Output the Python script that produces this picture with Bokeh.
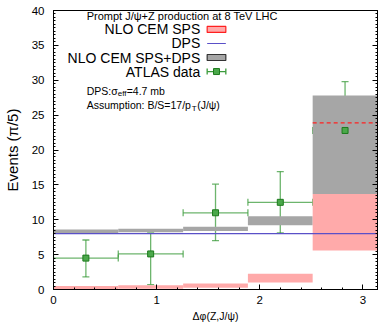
import numpy as np
from bokeh.plotting import figure
from bokeh.models import (ColumnDataSource, Range1d, LinearAxis, SingleIntervalTicker,
                          Whisker, TeeHead, Label)
from bokeh.embed import file_html
from bokeh.resources import INLINE

# ---- data ----
bin_lo = [0.0, 0.628, 1.257, 1.885, 2.513]
bin_hi = [0.628, 1.257, 1.885, 2.513, 3.1416]
sps_lo = [0.05, 0.1, 0.25, 1.0, 5.6]
sps_hi = [0.5, 0.6, 0.85, 2.25, 13.7]
tot_lo = [8.1, 8.2, 8.4, 9.2, 13.7]
tot_hi = [8.6, 8.7, 9.0, 10.5, 27.8]
dps_value = 8.0
central_last_bin = [23.9]
data_x = [0.314, 0.942, 1.571, 2.199, 2.827]
data_y = [4.5, 5.1, 11.0, 12.5, 22.8]
data_lo = [1.8, 0.7, 7.0, 8.1, 15.8]
data_hi = [7.1, 8.1, 15.1, 16.9, 29.8]

FONT = "Liberation Sans"
GREEN = "#3c9c3c"
XMAX = 3.1416

p = figure(width=382, height=328, output_backend="svg", toolbar_location=None,
           x_range=Range1d(0, XMAX), y_range=Range1d(0, 40),
           min_border_left=48, min_border_right=5, min_border_top=10, min_border_bottom=39)
p.grid.visible = False
p.outline_line_color = "black"
p.outline_line_width = 1
p.background_fill_color = "white"

# axes
p.xaxis.ticker = SingleIntervalTicker(interval=1, num_minor_ticks=5)
p.yaxis.ticker = SingleIntervalTicker(interval=5, num_minor_ticks=10)
for ax in (p.xaxis[0], p.yaxis[0]):
    ax.major_tick_out = 0
    ax.major_tick_in = 5
    ax.minor_tick_out = 0
    ax.minor_tick_in = 2
    ax.major_label_text_font = FONT
    ax.major_label_text_font_size = "11.5px"
    ax.major_label_text_color = "black"
    ax.axis_line_color = "black"
    ax.axis_label_text_font = FONT
    ax.axis_label_text_font_style = "normal"
    ax.axis_label_text_color = "black"
p.xaxis.major_label_standoff = 6
p.xaxis.axis_label = "Δφ(Z,J/ψ)"
p.xaxis.axis_label_text_font_size = "10.5px"
p.xaxis.axis_label_standoff = 3
p.yaxis.major_label_standoff = 9
p.yaxis.axis_label = "Events (π/5)"
p.yaxis.axis_label_text_font_size = "15px"
p.yaxis.axis_label_standoff = 8

right = LinearAxis(ticker=SingleIntervalTicker(interval=5, num_minor_ticks=10),
                   major_tick_out=0, major_tick_in=5, minor_tick_out=0, minor_tick_in=2,
                   major_label_text_font_size="0px", major_label_standoff=0,
                   axis_line_color="black")
p.add_layout(right, "right")

# bands
src = ColumnDataSource(dict(l=bin_lo, r=bin_hi, slo=sps_lo, shi=sps_hi, tlo=tot_lo, thi=tot_hi))
p.quad(left="l", right="r", bottom="tlo", top="thi", source=src,
       fill_color="#a6a6a6", line_color=None)
p.quad(left="l", right="r", bottom="slo", top="shi", source=src,
       fill_color="#ffaaaa", line_color=None)

# DPS line
p.line(x=[0, XMAX], y=[dps_value, dps_value], line_color="#5a50c8", line_width=1.2)

# central dashed in last bin
p.segment(x0=bin_lo[-1:], x1=bin_hi[-1:], y0=central_last_bin, y1=central_last_bin,
          line_color="#ff2020", line_width=1.2, line_dash="4 3")

# ATLAS data
dsrc = ColumnDataSource(dict(x=data_x, y=data_y, lo=data_lo, hi=data_hi, xl=bin_lo, xh=bin_hi))
def head():
    return TeeHead(size=7, line_color=GREEN, line_alpha=0.75, line_width=1.3)
p.add_layout(Whisker(source=dsrc, base="x", lower="lo", upper="hi", dimension="height",
                     line_color=GREEN, line_alpha=0.75, line_width=1.3,
                     upper_head=head(), lower_head=head()))
p.add_layout(Whisker(source=dsrc, base="y", lower="xl", upper="xh", dimension="width",
                     line_color=GREEN, line_alpha=0.75, line_width=1.3,
                     upper_head=head(), lower_head=head()))
p.scatter(x="x", y="y", source=dsrc, marker="square", size=6,
          fill_color="#4aa84a", line_color="#1d7a1d", line_width=1)

# ---- legend (drawn by hand, labels on the left of swatches) ----
def txt(x, y, s, size, align="left", xo=0, yo=0):
    p.add_layout(Label(x=x, y=y, text=s, text_font=FONT, text_font_size=size,
                       text_align=align, text_baseline="middle", x_offset=xo, y_offset=yo,
                       text_color="black"))

txt(0.322, 39.14, "Prompt J/ψ+Z production at 8 TeV LHC", "11px")
lx = 1.423
rows = [37.28, 35.27, 33.26, 31.25]
txt(lx, rows[0], "NLO CEM SPS", "14px", "right")
txt(lx, rows[1], "DPS", "14px", "right")
txt(lx, rows[2], "NLO CEM SPS+DPS", "14px", "right")
txt(lx, rows[3], "ATLAS data", "14px", "right")
sx0, sx1 = 1.49, 1.671
h = 0.43
p.quad(left=[sx0], right=[sx1], bottom=[rows[0] - h], top=[rows[0] + h],
       fill_color="#ffaaaa", line_color="#ff2020", line_width=1.2)
p.line(x=[sx0, sx1], y=[rows[1], rows[1]], line_color="#5a50c8", line_width=1.2)
p.quad(left=[sx0], right=[sx1], bottom=[rows[2] - h], top=[rows[2] + h],
       fill_color="#a6a6a6", line_color="#333333", line_width=1.2)
p.segment(x0=[sx0], x1=[sx1], y0=[rows[3]], y1=[rows[3]], line_color=GREEN, line_width=1.3)
p.segment(x0=[sx0, sx1], x1=[sx0, sx1], y0=[rows[3] - h, rows[3] - h], y1=[rows[3] + h, rows[3] + h],
          line_color=GREEN, line_width=1.3)
p.scatter(x=[(sx0 + sx1) / 2], y=[rows[3]], marker="square", size=6,
          fill_color="#4aa84a", line_color="#1d7a1d")

# annotations with subscripts
ya, yb = 28.53, 26.38
txt(0.322, ya, "DPS:σ", "10.5px")
txt(0.322, ya, "eff", "8px", xo=31, yo=-3)
txt(0.322, ya, "=4.7 mb", "10.5px", xo=40)
txt(0.322, yb, "Assumption: B/S=17/p", "10.5px")
txt(0.322, yb, "T", "8px", xo=105, yo=-3)
txt(0.322, yb, "(J/ψ)", "10.5px", xo=110.5)

open("out.html", "w").write(file_html(p, INLINE))
